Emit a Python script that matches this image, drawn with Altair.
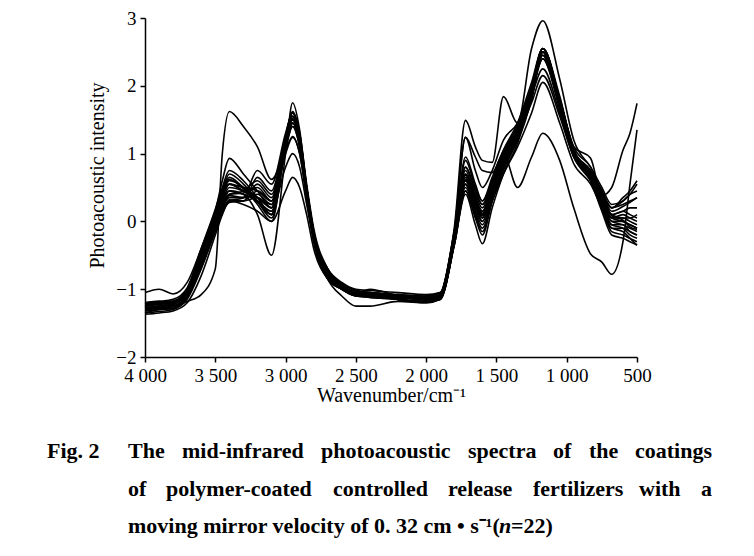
import altair as alt
import pandas as pd

wavenumbers = [4000, 3900, 3800, 3700, 3600, 3500, 3450, 3400, 3300, 3200,
               3100, 3000, 2950, 2900, 2850, 2800, 2700, 2600, 2500, 2400,
               2200, 2000, 1900, 1800, 1720, 1650, 1600, 1530, 1450, 1350,
               1250, 1170, 1050, 950, 830, 750, 680, 600, 550, 500]

s01 = [-1.30, -1.28, -1.25, -1.18, -1.08, -0.70, 1.00, 1.62, 1.40, 1.10,
       0.62, 1.05, 1.25, 1.00, 0.35, -0.30, -0.85, -1.00, -1.10, -1.10,
       -1.15, -1.18, -1.14, -0.30, 0.80, 0.45, 0.25, 0.55, 0.95, 1.30,
       1.90, 2.50, 1.80, 1.05, 0.72, 0.38, 0.08, 0.02, -0.08, -0.12]
s02 = [-1.20, -1.18, -1.20, -1.00, -0.45, 0.15, 0.60, 0.93, 0.70, 0.45,
       0.20, 1.10, 1.40, 1.10, 0.40, -0.25, -0.80, -0.95, -1.05, -1.05,
       -1.10, -1.12, -1.08, -0.25, 0.95, 0.55, 0.30, 0.65, 1.05, 1.40,
       1.95, 2.40, 1.70, 1.00, 0.72, 0.42, 0.15, 0.22, 0.28, 0.35]
s03 = [-1.35, -1.30, -1.28, -1.10, -0.60, -0.05, 0.25, 0.45, 0.40, 0.10,
       -0.50, 1.00, 1.75, 1.35, 0.50, -0.20, -0.80, -1.00, -1.10, -1.12,
       -1.15, -1.20, -1.15, -0.30, 0.50, 0.10, -0.15, 0.30, 0.80, 1.20,
       1.85, 2.50, 1.80, 1.05, 0.60, 0.20, -0.15, -0.20, -0.25, -0.30]
s04 = [-1.28, -1.25, -1.22, -1.05, -0.60, -0.10, 0.15, 0.30, 0.25, 0.15,
       0.00, 0.45, 0.65, 0.50, 0.10, -0.40, -0.85, -1.00, -1.05, -1.00,
       -1.10, -1.15, -1.10, -0.15, 1.24, 0.95, 0.75, 0.72, 1.00, 0.50,
       0.95, 1.30, 0.90, 0.20, -0.48, -0.60, -0.78, -0.30, 0.55, 1.35]
s05 = [-1.25, -1.22, -1.20, -1.02, -0.50, 0.05, 0.35, 0.55, 0.45, 0.35,
       0.25, 1.25, 1.60, 1.25, 0.50, -0.15, -0.70, -0.92, -1.02, -1.05,
       -1.08, -1.10, -1.05, -0.10, 1.49, 1.10, 0.90, 0.87, 1.84, 1.45,
       2.55, 2.96, 2.10, 1.20, 0.80, 0.50, 0.25, 0.30, 0.40, 0.55]
s06 = [-1.22, -1.20, -1.18, -1.00, -0.48, 0.10, 0.40, 0.55, 0.50, 0.45,
       0.30, 1.20, 1.50, 1.20, 0.45, -0.20, -0.75, -0.95, -1.05, -1.08,
       -1.10, -1.15, -1.10, -0.25, 0.70, 0.40, 0.20, 0.55, 1.00, 1.35,
       1.95, 2.55, 1.85, 1.10, 0.93, 0.38, 0.50, 1.05, 1.30, 1.74]
s07 = [-1.30, -1.28, -1.25, -1.10, -0.62, -0.05, 0.25, 0.40, 0.45, 0.60,
       0.40, 1.15, 1.45, 1.15, 0.45, -0.20, -0.78, -0.98, -1.08, -1.10,
       -1.12, -1.15, -1.12, -0.20, 1.24, 0.75, 0.50, 0.75, 1.20, 1.45,
       1.95, 2.45, 1.70, 1.00, 0.75, 0.45, 0.20, 0.35, 0.45, 0.60]
s08 = [-1.05, -1.00, -1.07, -0.90, -0.40, 0.15, 0.45, 0.65, 0.50, 0.35,
       0.10, 1.20, 1.55, 1.20, 0.45, -0.20, -0.70, -0.90, -1.00, -1.02,
       -1.05, -1.08, -1.05, -0.20, 0.60, 0.25, 0.05, 0.45, 0.85, 1.25,
       1.90, 2.50, 1.75, 1.05, 0.70, 0.30, 0.00, -0.05, -0.10, -0.15]
s09 = [-1.30, -1.28, -1.25, -1.10, -0.65, -0.10, 0.15, 0.30, 0.35, 0.75,
       0.55, 1.30, 1.60, 1.30, 0.55, -0.10, -0.70, -0.95, -1.05, -1.08,
       -1.12, -1.15, -1.12, -0.30, 0.55, 0.20, 0.00, 0.40, 0.85, 1.25,
       1.85, 2.55, 1.80, 1.05, 0.65, 0.25, -0.05, -0.10, -0.20, -0.25]
s10 = [-1.32, -1.30, -1.28, -1.12, -0.68, -0.12, 0.15, 0.32, 0.30, 0.65,
       0.45, 1.25, 1.55, 1.25, 0.50, -0.15, -0.75, -0.98, -1.08, -1.10,
       -1.15, -1.18, -1.15, -0.35, 0.45, 0.05, -0.20, 0.30, 0.75, 1.20,
       1.80, 2.50, 1.75, 1.00, 0.60, 0.20, -0.10, -0.15, -0.25, -0.35]
s11 = [-1.28, -1.25, -1.22, -1.08, -0.60, -0.05, 0.20, 0.35, 0.35, 0.55,
       0.35, 1.20, 1.50, 1.20, 0.45, -0.20, -0.78, -1.00, -1.08, -1.10,
       -1.12, -1.15, -1.12, -0.25, 0.60, 0.25, 0.05, 0.45, 0.90, 1.30,
       1.90, 2.45, 1.72, 1.00, 0.68, 0.30, 0.05, 0.10, 0.05, 0.00]
s12 = [-1.22, -1.20, -1.18, -1.00, -0.45, 0.10, 0.45, 0.70, 0.55, 0.30,
       0.05, 1.05, 1.40, 1.10, 0.40, -0.25, -0.80, -0.98, -1.08, -1.10,
       -1.12, -1.15, -1.10, -0.20, 0.65, 0.30, 0.10, 0.50, 0.90, 1.30,
       1.90, 2.40, 1.65, 0.95, 0.65, 0.30, 0.05, 0.05, 0.00, -0.05]
s13 = [-1.25, -1.22, -1.20, -1.05, -0.52, 0.05, 0.38, 0.60, 0.50, 0.25,
       0.00, 1.10, 1.45, 1.15, 0.45, -0.20, -0.75, -0.95, -1.05, -1.08,
       -1.10, -1.12, -1.08, -0.15, 0.70, 0.35, 0.15, 0.55, 1.00, 1.40,
       2.00, 2.55, 1.80, 1.05, 0.70, 0.35, 0.10, 0.15, 0.10, 0.05]
s14 = [-1.27, -1.25, -1.22, -1.08, -0.58, 0.00, 0.30, 0.50, 0.45, 0.35,
       0.20, 1.15, 1.50, 1.20, 0.45, -0.18, -0.75, -0.96, -1.06, -1.08,
       -1.12, -1.15, -1.10, -0.25, 0.55, 0.20, 0.00, 0.40, 0.85, 1.25,
       1.85, 2.50, 1.75, 1.00, 0.62, 0.25, -0.05, -0.05, -0.15, -0.20]
s15 = [-1.25, -1.22, -1.20, -1.05, -0.55, 0.00, 0.30, 0.45, 0.40, 0.30,
       0.15, 0.80, 1.00, 0.80, 0.25, -0.30, -0.82, -1.00, -1.08, -1.10,
       -1.12, -1.15, -1.12, -0.30, 0.90, 0.50, 0.30, 0.60, 1.00, 1.30,
       1.85, 2.25, 1.60, 0.95, 0.60, 0.30, 0.10, 0.15, 0.20, 0.20]
s16 = [-1.30, -1.27, -1.25, -1.10, -0.62, -0.08, 0.22, 0.40, 0.42, 0.50,
       0.30, 1.00, 1.24, 1.00, 0.35, -0.25, -0.80, -1.00, -1.08, -1.10,
       -1.15, -1.18, -1.12, -0.30, 0.75, 0.35, 0.15, 0.50, 0.95, 1.25,
       1.75, 2.15, 1.55, 0.95, 0.70, 0.40, 0.20, 0.30, 0.40, 0.45]
s17 = [-1.32, -1.30, -1.28, -1.12, -0.65, -0.12, 0.20, 0.38, 0.35, 0.40,
       0.25, 1.15, 1.50, 1.20, 0.45, -0.20, -0.78, -1.00, -1.10, -1.12,
       -1.15, -1.18, -1.15, -0.35, 0.45, 0.10, -0.10, 0.30, 0.70, 1.10,
       1.60, 2.05, 1.45, 0.85, 0.55, 0.20, -0.10, -0.10, -0.15, -0.20]
s18 = [-1.35, -1.33, -1.30, -1.15, -0.70, -0.15, 0.12, 0.28, 0.30, 0.45,
       0.30, 1.20, 1.55, 1.25, 0.50, -0.15, -0.75, -0.98, -1.08, -1.10,
       -1.12, -1.15, -1.12, -0.35, 0.40, -0.05, -0.33, 0.20, 0.70, 1.15,
       1.80, 2.50, 1.80, 1.05, 0.60, 0.15, -0.20, -0.25, -0.30, -0.35]
s19 = [-1.37, -1.35, -1.32, -1.20, -0.80, -0.20, 0.10, 0.30, 0.30, 0.35,
       0.20, 1.10, 1.45, 1.15, 0.40, -0.25, -0.85, -1.10, -1.25, -1.25,
       -1.18, -1.20, -1.15, -0.30, 0.55, 0.15, -0.05, 0.35, 0.80, 1.20,
       1.85, 2.40, 1.70, 1.00, 0.65, 0.30, 0.00, 0.00, -0.05, -0.10]
s20 = [-1.22, -1.20, -1.18, -1.02, -0.48, 0.08, 0.42, 0.62, 0.48, 0.28,
       0.10, 1.25, 1.60, 1.25, 0.50, -0.15, -0.72, -0.93, -1.02, -1.05,
       -1.10, -1.12, -1.08, -0.20, 0.62, 0.28, 0.08, 0.50, 0.95, 1.35,
       1.95, 2.55, 1.80, 1.05, 0.75, 0.40, 0.10, 0.05, 0.05, 0.10]
s21 = [-1.28, -1.25, -1.22, -1.05, -0.55, 0.02, 0.35, 0.55, 0.45, 0.30,
       0.15, 1.18, 1.52, 1.20, 0.45, -0.18, -0.75, -0.95, -1.05, -1.07,
       -1.10, -1.13, -1.10, -0.25, 0.68, 0.32, 0.12, 0.50, 0.95, 1.35,
       1.90, 2.45, 1.75, 1.02, 0.68, 0.32, 0.05, 0.00, -0.05, -0.10]
s22 = [-1.20, -1.18, -1.15, -0.98, -0.40, 0.18, 0.50, 0.75, 0.60, 0.35,
       0.10, 1.25, 1.62, 1.30, 0.50, -0.15, -0.72, -0.92, -1.02, -1.05,
       -1.08, -1.10, -1.06, -0.15, 0.80, 0.45, 0.25, 0.60, 1.05, 1.45,
       2.05, 2.55, 1.80, 1.10, 0.80, 0.45, 0.20, 0.25, 0.30, 0.35]

spectra = [s01, s02, s03, s04, s05, s06, s07, s08, s09, s10, s11,
           s12, s13, s14, s15, s16, s17, s18, s19, s20, s21, s22]

x_ticks = [4000, 3500, 3000, 2500, 2000, 1500, 1000, 500]
y_ticks = [-2, -1, 0, 1, 2, 3]

x_title = "Wavenumber/cm\u207b\u00b9"
y_title = "Photoacoustic intensity"

caption_fig = "Fig. 2"
caption_line1 = ["The", "mid-infrared", "photoacoustic", "spectra", "of", "the", "coatings"]
caption_line2 = ["of", "polymer-coated", "controlled", "release", "fertilizers", "with", "a"]
caption_l3a = "moving mirror velocity of 0. 32 cm \u2022 s\u207b\u00b9("
caption_l3b = "n"
caption_l3c = "=22)"

# layout (page pixels) for the justified caption words
line1_x = [128, 182, 321, 468, 553, 589, 712]
line2_x = [128, 166, 333, 448, 533, 639, 712]

rows = []
for i, vals in enumerate(spectra):
    for w, v in zip(wavenumbers, vals):
        rows.append({"sample": f"S{i + 1:02d}", "wavenumber": w, "intensity": v})
df = pd.DataFrame(rows)

W, H = 492, 339
OX, OY = 145, 18   # page position of plot origin
SERIF = "Liberation Serif"

lines = alt.Chart(df).mark_line(
    interpolate="monotone", color="black", strokeWidth=1.6
).encode(
    x=alt.X("wavenumber:Q",
            scale=alt.Scale(domain=[500, 4000], reverse=True, nice=False, zero=False),
            axis=alt.Axis(values=x_ticks, title=x_title, labelFlush=False,
                          labelPadding=4, titlePadding=0,
                          labelExpr="datum.value >= 1000 ? format(floor(datum.value/1000),'d') + ' ' + format(datum.value % 1000, '03d') : format(datum.value,'d')")),
    y=alt.Y("intensity:Q",
            scale=alt.Scale(domain=[-2, 3], nice=False, zero=False),
            axis=alt.Axis(values=y_ticks, title=y_title, format="d", labelFlush=False,
                          labelPadding=4,
                          titleX=97 - OX, titleY=175 - OY, titleBaseline="middle",
                          titleAlign="center", titleAngle=270)),
    detail="sample:N",
    order=alt.Order("wavenumber:Q", sort="descending"),
)


def cap(text, x, y, align="left", style="normal"):
    return alt.Chart(pd.DataFrame({"t": [text]})).mark_text(
        align=align, baseline="alphabetic", font=SERIF, fontSize=22,
        fontWeight="bold", fontStyle=style, color="black"
    ).encode(x=alt.value(x - OX), y=alt.value(y - OY), text="t:N")


layers = [lines, cap(caption_fig, 47, 458)]
for k, (word, xp) in enumerate(zip(caption_line1, line1_x)):
    layers.append(cap(word, xp, 458, align="right" if k == len(caption_line1) - 1 else "left"))
for k, (word, xp) in enumerate(zip(caption_line2, line2_x)):
    layers.append(cap(word, xp, 496, align="right" if k == len(caption_line2) - 1 else "left"))
layers.append(cap(caption_l3a, 128, 533))
layers.append(cap(caption_l3b, 499, 533, style="italic"))
layers.append(cap(caption_l3c, 511, 533))

chart = alt.layer(*layers).properties(
    width=W, height=H,
    autosize=alt.AutoSizeParams(type="none"),
    padding={"left": 137, "top": 10, "right": 109, "bottom": 191},
).configure_view(stroke=None).configure_axis(
    grid=False, domainColor="black", domainWidth=1.5, tickColor="black",
    tickWidth=1.5, tickSize=5, labelFont=SERIF, labelFontSize=19,
    labelColor="black", titleFont=SERIF, titleFontWeight="normal",
    titleColor="black", titleFontSize=20,
)

chart.save("out.html", embed_options={"renderer": "svg", "actions": False})
